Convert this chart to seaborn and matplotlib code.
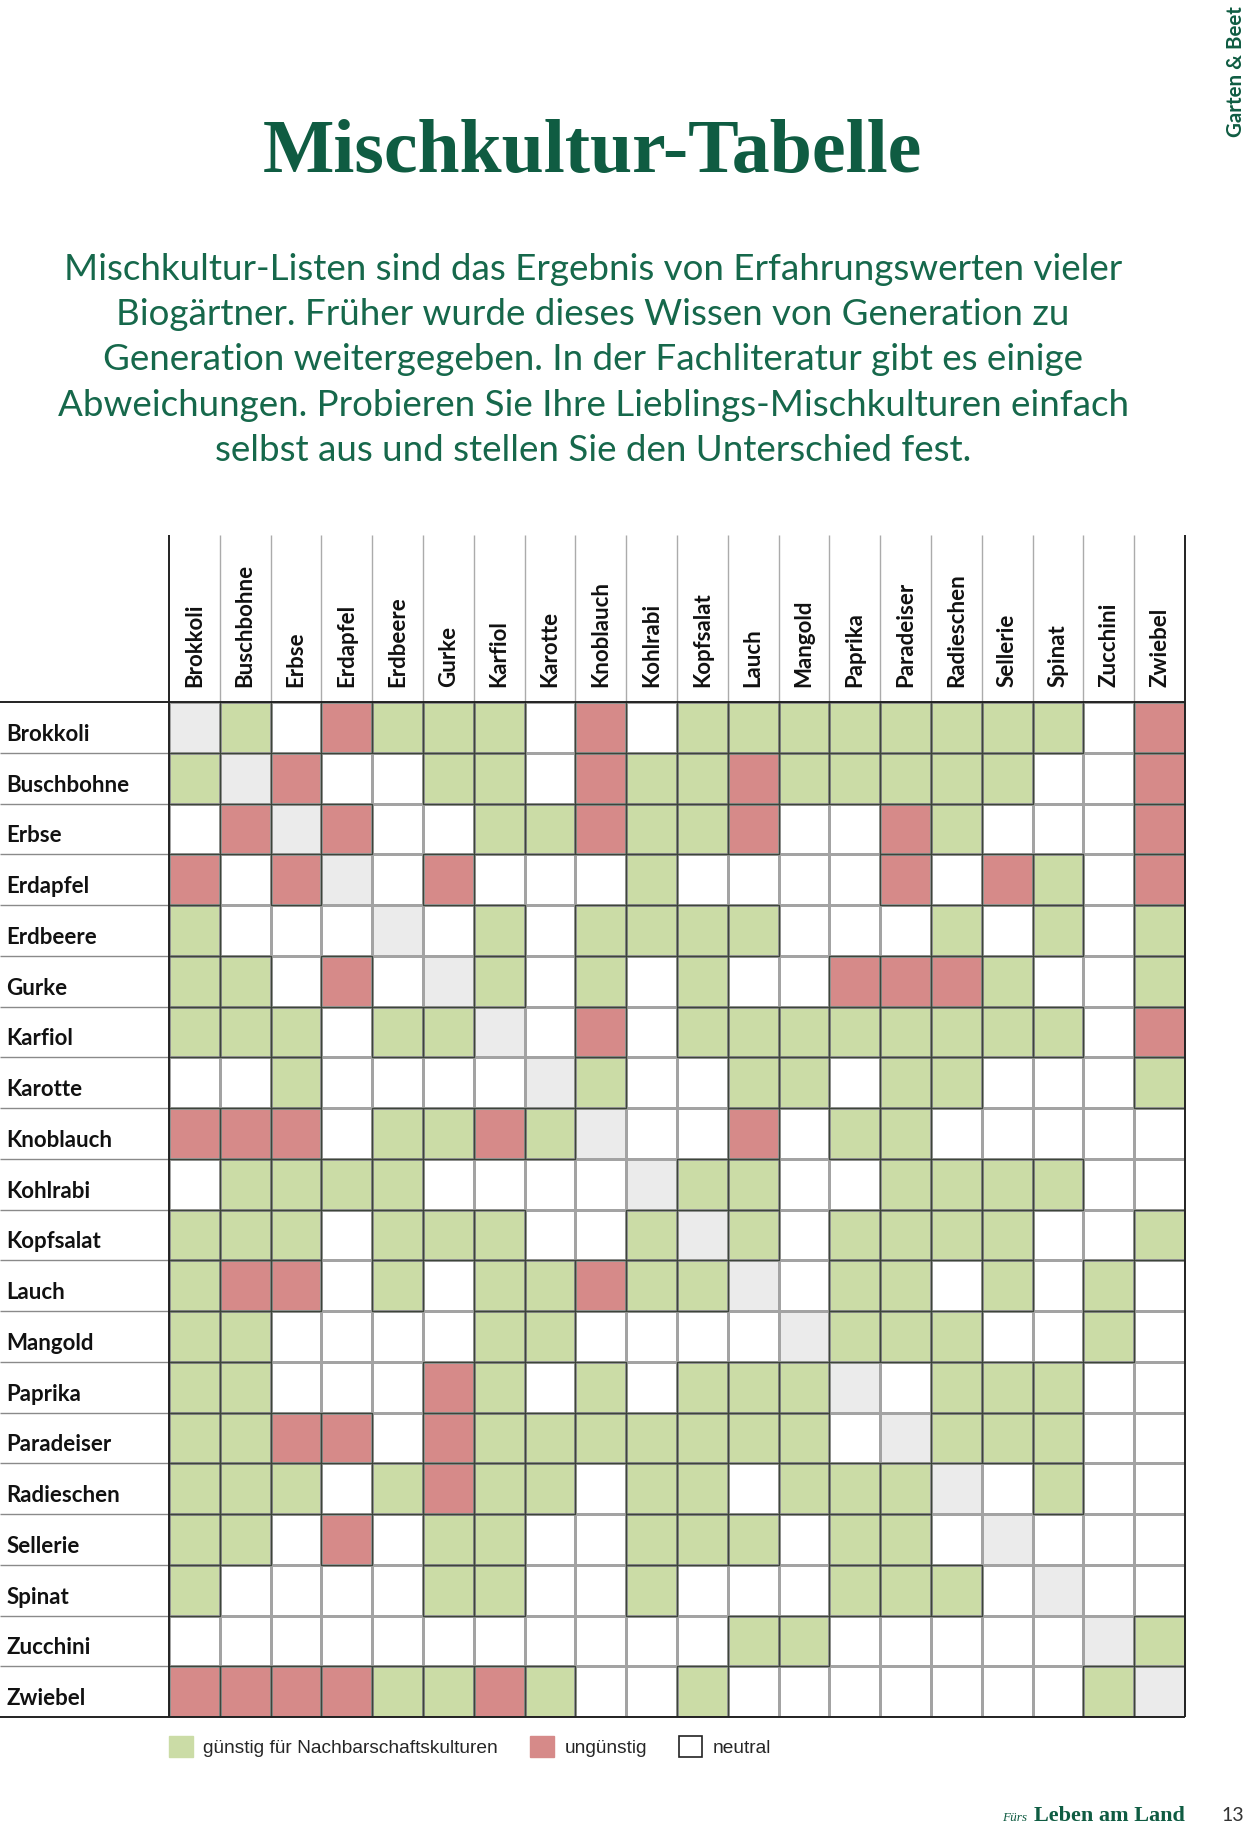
import numpy as np
import pandas as pd
import seaborn as sns
import matplotlib
matplotlib.use("Agg")
import matplotlib.pyplot as plt
from matplotlib.colors import ListedColormap
from matplotlib.patches import Patch, Rectangle

# ---------------- data ----------------
plants = ["Brokkoli", "Buschbohne", "Erbse", "Erdapfel", "Erdbeere", "Gurke",
          "Karfiol", "Karotte", "Knoblauch", "Kohlrabi", "Kopfsalat", "Lauch",
          "Mangold", "Paprika", "Paradeiser", "Radieschen", "Sellerie", "Spinat",
          "Zucchini", "Zwiebel"]

# G = günstig, R = ungünstig, N = neutral, D = same plant (diagonal)
relations = [
    "DGNRGGGNRNGGGGGGGGNR",  # Brokkoli
    "GDRNNGGNRGGRGGGGGNNR",  # Buschbohne
    "NRDRNNGGRGGRNNRGNNNR",  # Erbse
    "RNRDNRNNNGNNNNRNRGNR",  # Erdapfel
    "GNNNDNGNGGGGNNNGNGNG",  # Erdbeere
    "GGNRNDGNGNGNNRRRGNNG",  # Gurke
    "GGGNGGDNRNGGGGGGGGNR",  # Karfiol
    "NNGNNNNDGNNGGNGGNNNG",  # Karotte
    "RRRNGGRGDNNRNGGNNNNN",  # Knoblauch
    "NGGGGNNNNDGGNNGGGGNN",  # Kohlrabi
    "GGGNGGGNNGDGNGGGGNNG",  # Kopfsalat
    "GRRNGNGGRGGDNGGNGNGN",  # Lauch
    "GGNNNNGGNNNNDGGGNNGN",  # Mangold
    "GGNNNRGNGNGGGDNGGGNN",  # Paprika
    "GGRRNRGGGGGGGNDGGGNN",  # Paradeiser
    "GGGNGRGGNGGNGGGDNGNN",  # Radieschen
    "GGNRNGGNNGGGNGGNDNNN",  # Sellerie
    "GNNNNGGNNGNNNGGGNDNN",  # Spinat
    "NNNNNNNNNNNGGNNNNNDG",  # Zucchini
    "RRRRGGRGNNGNNNNNNNGD",  # Zwiebel
]

legend_labels = ["günstig für Nachbarschaftskulturen", "ungünstig", "neutral"]

title = "Mischkultur-Tabelle"
intro_lines = [
    "Mischkultur-Listen sind das Ergebnis von Erfahrungswerten vieler",
    "Biogärtner. Früher wurde dieses Wissen von Generation zu",
    "Generation weitergegeben. In der Fachliteratur gibt es einige",
    "Abweichungen. Probieren Sie Ihre Lieblings-Mischkulturen einfach",
    "selbst aus und stellen Sie den Unterschied fest.",
]

# ---------------- styling ----------------
GREEN = "#cbdca6"
RED = "#d68a89"
DIAG = "#ebebeb"
WHITE = "#ffffff"
TEXT_GREEN = "#0f5c42"

code_map = {"N": 0, "G": 1, "R": 2, "D": 3}
df = pd.DataFrame([[code_map[c] for c in row] for row in relations],
                  index=plants, columns=plants)
cmap = ListedColormap([WHITE, GREEN, RED, DIAG])

sns.set_theme(style="white")
plt.rcParams["font.family"] = ["Lato", "DejaVu Sans"]

W, H = 1250, 1826
fig = plt.figure(figsize=(W / 100, H / 100), dpi=100)
gx0, gx1, gy0, gy1 = 169, 1185, 702, 1717
ax = fig.add_axes([gx0 / W, 1 - gy1 / H, (gx1 - gx0) / W, (gy1 - gy0) / H])

# cells with light grid lines
sns.heatmap(df, ax=ax, cmap=cmap, vmin=-0.5, vmax=3.5, cbar=False,
            linewidths=1.0, linecolor="#a3a3a3", xticklabels=True, yticklabels=True)

# darker outlines around coloured (green / red) cells
vals = df.to_numpy()
for i in range(vals.shape[0]):
    for j in range(vals.shape[1]):
        if vals[i, j] in (1, 2):
            ax.add_patch(Rectangle((j, i), 1, 1, fill=False, ec="#3d453b",
                                   lw=1.0, zorder=3))

n = len(plants)
left_ext = -gx0 / ((gx1 - gx0) / n)          # extend rows to page edge
head_ext = -(gy0 - 535) / ((gy1 - gy0) / n)  # column header lines

ax.hlines(np.arange(1, n), left_ext, 0, colors="#8a8a8a", lw=1.0, clip_on=False)
ax.hlines([0, n], left_ext, n, colors="#222222", lw=1.4, clip_on=False, zorder=4)
ax.vlines(np.arange(1, n), head_ext, 0, colors="#ababab", lw=1.0, clip_on=False)
ax.vlines([0, n], head_ext, n, colors="#222222", lw=1.4, clip_on=False, zorder=4)

ax.set_xlabel("")
ax.set_ylabel("")
ax.xaxis.tick_top()
ax.tick_params(length=0)
ax.tick_params(axis="x", pad=11)
ax.tick_params(axis="y", pad=117)
ax.set_xticks(np.arange(n) + 0.5)
ax.set_xticklabels(plants, rotation=90, ha="center", va="bottom",
                   fontsize=16, fontweight="bold", color="#111111")
ax.set_yticks(np.arange(n) + 0.6)
ax.set_yticklabels(plants, rotation=0, ha="left", va="center_baseline",
                   fontsize=16, fontweight="bold", color="#111111")

# legend
handles = [Patch(facecolor=GREEN, edgecolor=GREEN),
           Patch(facecolor=RED, edgecolor=RED),
           Patch(facecolor=WHITE, edgecolor="#222222", lw=1.2)]
ax.legend(handles, legend_labels, ncol=3, loc="upper left",
          bbox_to_anchor=(0.0, -0.019), frameon=False,
          prop={"family": ["Liberation Sans", "DejaVu Sans"], "size": 13.8},
          handlelength=1.25, handleheight=1.25, handletextpad=0.55,
          columnspacing=1.65, borderaxespad=0, borderpad=0)

# title and intro text
fig.text(592 / W, 1 - 172 / H, title, ha="center", va="baseline",
         fontsize=54.5, fontweight="bold", color=TEXT_GREEN,
         family=["Liberation Serif", "DejaVu Serif"])
for i, line in enumerate(intro_lines):
    fig.text(593 / W, 1 - (280 + i * 45.2) / H, line, ha="center", va="baseline",
             fontsize=26.5, color="#16684b", family=["Lato", "DejaVu Sans"])

# side label and footer
fig.text(1236 / W, 1 - 72 / H, "Garten & Beet", rotation=90, ha="center",
         va="center", fontsize=14.8, fontweight="bold", color=TEXT_GREEN)
fig.text(1002 / W, 1 - 1821 / H, "Fürs", ha="left", va="baseline", fontsize=9.5,
         style="italic", color=TEXT_GREEN, family=["Liberation Serif", "DejaVu Serif"])
fig.text(1034 / W, 1 - 1821 / H, "Leben am Land", ha="left", va="baseline",
         fontsize=16, fontweight="bold", color=TEXT_GREEN,
         family=["Liberation Serif", "DejaVu Serif"])
fig.text(1244 / W, 1 - 1821 / H, "13", ha="right", va="baseline", fontsize=14,
         color="#333333")

fig.savefig("out.png", dpi=100)
